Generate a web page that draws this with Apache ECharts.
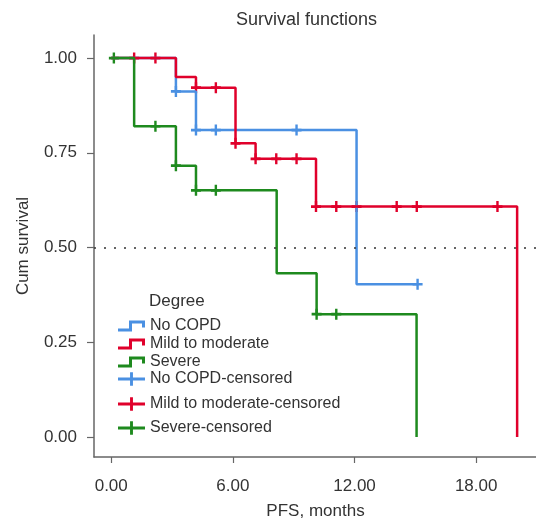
<!DOCTYPE html>
<html>
<head>
<meta charset="utf-8">
<title>Survival functions</title>
<script src="https://cdn.jsdelivr.net/npm/echarts@6/dist/echarts.min.js"></script>
<style>
    html, body { margin: 0; padding: 0; background: #fff; }
    #chart { width: 536px; height: 519px; }
</style>
</head>
<body>
<div id="chart"></div>
<script>
// 组名
const groupNames = ['No COPD', 'Mild to moderate', 'Severe'];
const groupColors = ['#4a90e2', '#e0002b', '#1e8a1e'];

// 生存曲线 (月, 累计生存率)
const noCopdTimes = [0, 3.19, 4.18, 12.1, 15.11];
const noCopdSurv = [1, 0.912, 0.81, 0.403, 0.403];
const mildTimes = [0, 3.19, 4.18, 6.13, 7.12, 10.1, 20.02];
const mildSurv = [1, 0.95, 0.922, 0.775, 0.734, 0.608, 0];
const severeTimes = [0, 1.13, 3.19, 4.18, 8.16, 10.13, 15.06];
const severeSurv = [1, 0.82, 0.716, 0.651, 0.432, 0.324, 0];

// 删失点
const noCopdCensTimes = [3.19, 4.18, 5.16, 9.14, 15.11];
const noCopdCensSurv = [0.912, 0.81, 0.81, 0.81, 0.403];
const mildCensTimes = [1.13, 2.18, 4.18, 5.16, 6.13, 7.12, 8.14, 9.14, 10.1, 11.1, 12.1, 14.08, 15.07, 19.05];
const mildCensSurv = [1, 1, 0.922, 0.922, 0.775, 0.734, 0.734, 0.734, 0.608, 0.608, 0.608, 0.608, 0.608, 0.608];
const severeCensTimes = [0.13, 2.18, 3.19, 4.18, 5.16, 10.13, 11.1];
const severeCensSurv = [1, 0.82, 0.716, 0.651, 0.651, 0.324, 0.324];

// 刻度
const xTicks = [0, 6, 12, 18];
const yTicks = [0, 0.25, 0.5, 0.75, 1];
const medianLine = 0.5;

const FONT = '"Liberation Sans", Arial, sans-serif';

const stepIcon = 'path://M0,8 L11,8 L11,0 L27,0 L27,7 L24,7 L24,3 L14,3 L14,11 L0,11 Z';
const plusIcon = 'path://M0,5.5 L12.5,5.5 L12.5,0 L15.5,0 L15.5,5.5 L28,5.5 L28,8.5 L15.5,8.5 L15.5,14 L12.5,14 L12.5,8.5 L0,8.5 Z';
const crossMark = 'path://M3.8,0 L6.2,0 L6.2,3.8 L10,3.8 L10,6.2 L6.2,6.2 L6.2,10 L3.8,10 L3.8,6.2 L0,6.2 L0,3.8 L3.8,3.8 Z';

function zip(xs, ys) {
    return xs.map((x, i) => [x, ys[i]]);
}

const curves = [zip(noCopdTimes, noCopdSurv), zip(mildTimes, mildSurv), zip(severeTimes, severeSurv)];
const censored = [
    zip(noCopdCensTimes, noCopdCensSurv),
    zip(mildCensTimes, mildCensSurv),
    zip(severeCensTimes, severeCensSurv)
];

const lineSeries = curves.map((d, i) => ({
    name: groupNames[i],
    type: 'line',
    step: 'end',
    data: d,
    showSymbol: false,
    silent: true,
    color: groupColors[i],
    lineStyle: { width: 2.5, color: groupColors[i] },
    itemStyle: { color: groupColors[i] }
}));

// 0.5 虚线
lineSeries[0].markLine = {
    silent: true,
    symbol: ['none', 'none'],
    label: { show: false },
    lineStyle: { type: [2, 8], color: '#333', width: 1.5 },
    data: [{ yAxis: medianLine }]
};

const censSeries = censored.map((d, i) => ({
    name: groupNames[i] + '-censored',
    type: 'scatter',
    data: d,
    symbol: crossMark,
    symbolSize: [10, 11],
    silent: true,
    itemStyle: { color: groupColors[i], opacity: 1 }
}));

// 图例位置 (每项单独放置)
const legendTops = [318, 336, 354, 371, 396, 420];
const legendNames = groupNames.concat(groupNames.map(n => n + '-censored'));
const legends = legendNames.map((name, i) => ({
    data: [name],
    left: 118,
    top: legendTops[i],
    orient: 'vertical',
    selectedMode: false,
    icon: i < 3 ? stepIcon : plusIcon,
    itemWidth: 27,
    itemHeight: i < 3 ? 11 : 14,
    itemGap: 0,
    padding: 0,
    itemStyle: { borderWidth: 0, opacity: 1 },
    textStyle: { fontFamily: FONT, fontSize: 16, color: '#333' }
}));

const chart = echarts.init(document.getElementById('chart'), null, { renderer: 'canvas' });

const axisColor = '#666';

const option = {
    backgroundColor: '#fff',
    animation: false,
    title: [
        {
            text: 'Survival functions',
            left: 236,
            top: 11,
            padding: 0,
            textStyle: { fontFamily: FONT, fontSize: 18, fontWeight: 'normal', color: '#333' }
        },
        {
            text: 'Degree',
            left: 149,
            top: 293,
            padding: 0,
            textStyle: { fontFamily: FONT, fontSize: 17, fontWeight: 'normal', color: '#333' }
        }
    ],
    legend: legends,
    grid: {
        left: 94,
        top: 35,
        width: 443,
        height: 422,
        containLabel: false,
        outerBoundsMode: 'none'
    },
    xAxis: {
        type: 'value',
        min: -0.85,
        max: 21,
        name: 'PFS, months',
        nameLocation: 'middle',
        nameGap: 46,
        nameTextStyle: { fontFamily: FONT, fontSize: 17, color: '#333' },
        axisLine: { onZero: false, lineStyle: { color: axisColor, width: 1.5 } },
        axisTick: { show: true, length: 6, customValues: xTicks, lineStyle: { color: axisColor, width: 1.2 } },
        axisLabel: {
            customValues: xTicks,
            margin: 21,
            fontFamily: FONT,
            fontSize: 17,
            color: '#333',
            formatter: v => v.toFixed(2)
        },
        splitLine: { show: false }
    },
    yAxis: {
        type: 'value',
        min: -0.053,
        max: 1.061,
        name: 'Cum survival',
        nameLocation: 'middle',
        nameGap: 62,
        nameTextStyle: { fontFamily: FONT, fontSize: 17, color: '#333' },
        axisLine: { show: true, onZero: false, lineStyle: { color: axisColor, width: 1.5 } },
        axisTick: { show: true, length: 7, customValues: yTicks, lineStyle: { color: axisColor, width: 1.2 } },
        axisLabel: {
            customValues: yTicks,
            margin: 17,
            fontFamily: FONT,
            fontSize: 17,
            color: '#333',
            formatter: v => v.toFixed(2)
        },
        splitLine: { show: false }
    },
    series: lineSeries.concat(censSeries)
};

chart.setOption(option);

window.addEventListener('resize', () => {
    chart && chart.resize();
});
</script>
</body>
</html>
